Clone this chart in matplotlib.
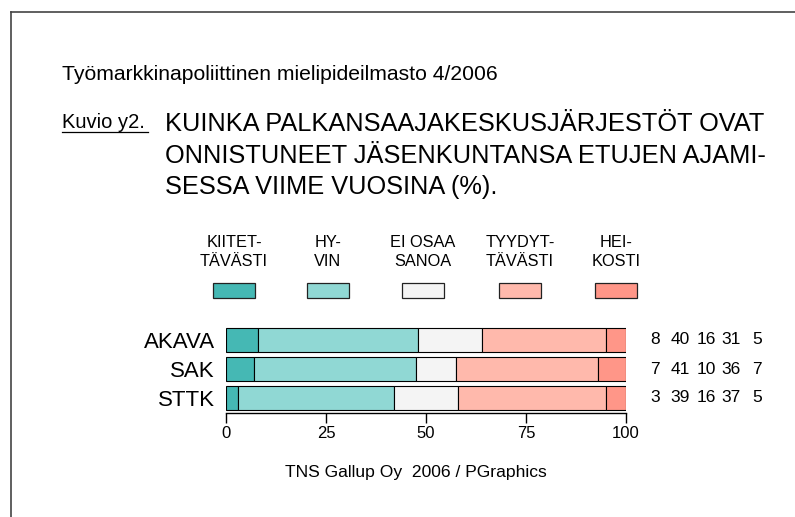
import matplotlib
matplotlib.use("Agg")
import matplotlib.pyplot as plt
import matplotlib.transforms as mtransforms
from matplotlib.lines import Line2D
from matplotlib.patches import Rectangle
import numpy as np

categories = ["AKAVA", "SAK", "STTK"]
series_names = ["KIITET-\nTÄVÄSTI", "HY-\nVIN", "EI OSAA\nSANOA", "TYYDYT-\nTÄVÄSTI", "HEI-\nKOSTI"]
# bar segment values (as drawn)
values = {
    "AKAVA": [8.0, 40.0, 16.0, 31.1, 4.9],
    "SAK":   [7.0, 40.6, 9.9, 35.5, 7.0],
    "STTK":  [2.9, 39.1, 16.0, 37.1, 4.9],
}
# printed labels
labels = {
    "AKAVA": [8, 40, 16, 31, 5],
    "SAK":   [7, 41, 10, 36, 7],
    "STTK":  [3, 39, 16, 37, 5],
}
xticks = [0, 25, 50, 75, 100]
colors = ["#45B8B4", "#90D8D4", "#F4F4F4", "#FFB9AC", "#FF9688"]

plt.rcParams['font.family'] = ['Liberation Sans', 'DejaVu Sans']

W, H = 795, 517
fig = plt.figure(figsize=(W / 100, H / 100), dpi=100)

def fx(px):
    return px / W

def fy(py):
    return 1 - py / H

# frame
fig.add_artist(Line2D([fx(11), fx(11)], [fy(12), 0], color="#444444", lw=1.2))
fig.add_artist(Line2D([fx(11), 1], [fy(12), fy(12)], color="#444444", lw=1.2))

# titles
fig.text(fx(62), fy(74), "Työmarkkinapoliittinen mielipideilmasto 4/2006",
         fontsize=15.2, va="center", ha="left")
fig.text(fx(62), fy(128), "Kuvio y2.", fontsize=14.5, va="baseline", ha="left")
fig.add_artist(Line2D([fx(62), fx(148)], [fy(132), fy(132)], color="black", lw=0.9))
heading = ["KUINKA PALKANSAAJAKESKUSJÄRJESTÖT OVAT",
           "ONNISTUNEET JÄSENKUNTANSA ETUJEN AJAMI-",
           "SESSA VIIME VUOSINA (%)."]
for i, line in enumerate(heading):
    fig.text(fx(165), fy(131 + i * 31.5), line, fontsize=18.3,
             va="baseline", ha="left")

# legend
leg_x = [234, 328, 423, 520, 616]
for name, c, x in zip(series_names, colors, leg_x):
    fig.text(fx(x), fy(252), name, fontsize=11.8,
             ha="center", va="center", linespacing=1.3)
    fig.add_artist(Rectangle((fx(x - 21), fy(298)), fx(42), 15 / H,
                             facecolor=c, edgecolor="#222222", lw=0.9,
                             transform=fig.transFigure))

# axes
ax = fig.add_axes([fx(226), fy(412.5), fx(400), 87 / H])
y = np.arange(len(categories))
left = np.zeros(len(categories))
for j in range(5):
    vals = np.array([values[c][j] for c in categories])
    ax.barh(y, vals, left=left, height=0.83, color=colors[j], edgecolor="black", lw=0.8)
    left += vals
ax.set_xlim(0, 100)
ax.set_ylim(2.5, -0.5)
for s in ["top", "right", "left"]:
    ax.spines[s].set_visible(False)
ax.spines["bottom"].set_linewidth(1.0)
ax.set_yticks(y)
ax.set_yticklabels(categories, fontsize=16)
ax.tick_params(axis="y", length=0, pad=8)
ax.set_xticks(xticks)
ax.set_xticklabels([str(t) for t in xticks], fontsize=12)
ax.tick_params(axis="x", length=7, width=1.0, pad=3)

trans = mtransforms.blended_transform_factory(fig.transFigure, ax.transData)
num_x = [655, 680, 706, 731, 757]
for i, c in enumerate(categories):
    for j, v in enumerate(labels[c]):
        ax.text(fx(num_x[j]), y[i], str(v), transform=trans,
                ha="center", va="center", fontsize=12.5)

fig.text(fx(416), fy(473), "TNS Gallup Oy  2006 / PGraphics", fontsize=12.6,
         ha="center", va="center")

fig.savefig("out.png", dpi=100)
